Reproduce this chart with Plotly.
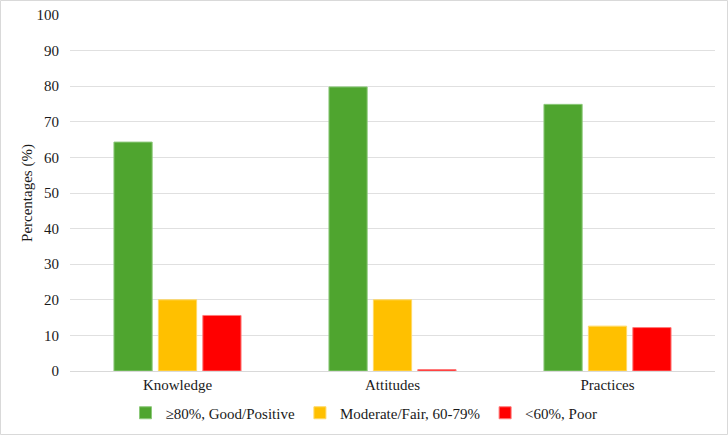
import plotly.graph_objects as go

categories = ["Knowledge", "Attitudes", "Practices"]
series_names = ["≥80%, Good/Positive", "Moderate/Fair, 60-79%", "<60%, Poor"]
good = [64.3, 79.8, 74.9]
moderate = [20.0, 20.0, 12.6]
poor = [15.6, 0.4, 12.2]
colors = ["#4FA52F", "#FFC000", "#FF0000"]
edge_colors = ["#8CC97A", "#FFD966", "#FF7A7A"]
y_ticks = list(range(0, 101, 10))

W, H = 728, 435
ml, mr, mt, mb = 70, 13, 15, 64
FONT = "Liberation Serif"

fig = go.Figure()
for name, vals, c, ec in zip(series_names, [good, moderate, poor], colors, edge_colors):
    fig.add_trace(go.Bar(x=categories, y=vals, name=name,
                         marker=dict(color=c, line=dict(color=ec, width=1))))

pw = W - ml - mr
ph = H - mt - mb
fig.add_shape(type="rect", xref="paper", yref="paper",
              x0=-(ml - 0.5) / pw, x1=1 + (mr - 0.5) / pw,
              y0=-(mb - 0.5) / ph, y1=1 + (mt - 0.5) / ph,
              line=dict(color="#D9D9D9", width=1), layer="below")

fig.update_layout(
    width=W, height=H,
    margin=dict(l=ml, r=mr, t=mt, b=mb, autoexpand=False),
    paper_bgcolor="white", plot_bgcolor="white",
    font=dict(family=FONT, size=15, color="#1a1a1a"),
    barmode="group", bargap=0.38, bargroupgap=0.14,
    showlegend=True,
    legend=dict(orientation="h", x=0.5, xanchor="center", xref="container",
                y=22 / H, yanchor="middle", yref="container",
                font=dict(family=FONT, size=15), itemwidth=30, tracegroupgap=0,
                bgcolor="rgba(0,0,0,0)"),
    xaxis=dict(showgrid=False, showline=True, linecolor="#D9D9D9", linewidth=1,
               ticks="", tickfont=dict(family=FONT, size=15)),
    yaxis=dict(range=[0, 100], tickvals=y_ticks, showgrid=True, gridcolor="#E0E0E0",
               gridwidth=1, zeroline=False, showline=False, ticks="",
               ticklabelstandoff=10,
               title=dict(text="Percentages (%)", font=dict(family=FONT, size=15), standoff=0),
               tickfont=dict(family=FONT, size=15)),
)

fig.write_html("out.html")
